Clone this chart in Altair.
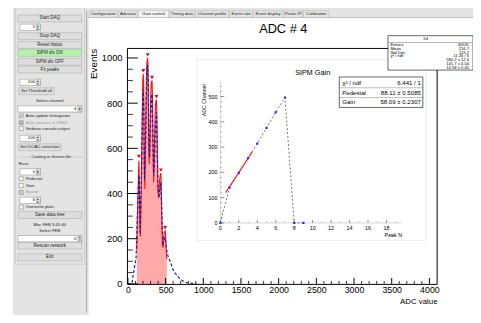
import altair as alt
import pandas as pd

# ---------------- data ----------------
blue_adc = [0, 40, 55, 65, 80, 95, 108, 115, 122, 130, 138, 146, 154, 162, 170, 180, 190, 197, 204, 212,
            220, 228, 238, 248, 256, 262, 270, 280, 290, 300, 310, 320, 330, 340, 350, 360, 370, 378, 388, 398,
            408, 418, 428, 436, 446, 456, 466, 476, 486, 494, 505, 515, 530, 545, 560, 580, 600, 620, 640, 660,
            680, 700, 730, 760, 790, 820, 850, 880, 910]
blue_cnt = [0, 0, 3, 30, 60, 90, 115, 180, 260, 340, 420, 480, 380, 220, 330, 480, 700, 820, 860, 760,
            460, 520, 700, 880, 960, 970, 860, 580, 560, 720, 820, 840, 700, 480, 520, 650, 720, 760, 640, 430,
            380, 400, 430, 450, 360, 250, 170, 190, 200, 205, 180, 150, 125, 110, 100, 80, 62, 50, 42, 34,
            27, 20, 13, 8, 5, 3, 2, 1, 0]

red_adc = [118, 125, 133, 140, 146, 151, 158, 166, 174, 182, 190, 197, 204, 210, 217, 224, 232, 240, 248, 255,
           262, 268, 275, 283, 291, 299, 307, 314, 320, 326, 333, 341, 349, 357, 365, 372, 378, 384, 391, 399,
           407, 415, 423, 430, 436, 442, 449, 457, 465, 473, 480, 487, 494, 500, 507, 515]
red_cnt = [150, 300, 380, 500, 545, 470, 260, 210, 400, 560, 760, 900, 930, 860, 520, 420, 600, 820, 960, 990,
           1000, 940, 620, 530, 650, 800, 880, 895, 900, 820, 600, 450, 560, 700, 790, 810, 815, 760, 560, 420,
           380, 430, 470, 485, 490, 440, 300, 170, 160, 200, 225, 232, 235, 220, 160, 110]

peak_adc = [146, 204, 262, 320, 378, 436, 494]
peak_cnt = [555, 935, 1005, 905, 820, 495, 240]

gain_n = [0, 1, 2, 3, 4, 5, 6, 7, 8, 9]
gain_ch = [0, 140, 198, 256, 314, 376, 438, 496, 0, 0]
fit_n = [0.57, 3.47]
fit_ch = [120, 282]

x_major = [0, 500, 1000, 1500, 2000, 2500, 3000, 3500, 4000]
x_minor = [v for v in range(100, 4100, 100) if v % 500]
y_major = [0, 200, 400, 600, 800, 1000]
y_minor = [v for v in range(50, 1040, 50) if v % 200]
in_x_major = [0, 2, 4, 6, 8, 10, 12, 14, 16, 18]
in_x_minor = [1, 3, 5, 7, 9, 11, 13, 15, 17, 19]
in_y_major = [0, 100, 200, 300, 400, 500]
in_y_minor = [v for v in range(20, 560, 20) if v % 100]

stat_names = ["Entries", "Mean", "Std Dev", "\u03c7\u00b2 / ndf", "", "", ""]
stat_values = ["40531", "216.7", "119.2", "11.26 / 6", "580.2 \u00b1 12.6", "145.7 \u00b1 4.04", "14.58 \u00b1 0.45"]
fit_names = ["\u03c7\u00b2 / ndf", "Pedestal", "Gain"]
fit_values = ["6.441 / 1", "88.11 \u00b1 0.5085", "58.09 \u00b1 0.2307"]

tabs = ["Configuration", "Adcview", "Gain control", "Timing data", "Channel profile",
        "Event rate", "Event display", "Peaks IP", "Calibration"]

# ---------------- layout helpers ----------------
F = "Liberation Sans"
OX, OY = 130, 47          # page position of the main plot area
W, H = 314, 239
ONE = pd.DataFrame({"k": [0]})
layers = []


def rect(x1, y1, x2, y2, fill=None, stroke=None, sw=0.6):
    kw = {}
    if fill is None:
        kw["fill"] = "white"
        kw["fillOpacity"] = 0
    else:
        kw["fill"] = fill
    if stroke is not None:
        kw["stroke"] = stroke
        kw["strokeWidth"] = sw
    else:
        kw["strokeWidth"] = 0
    return alt.Chart(ONE).mark_rect(**kw).encode(
        x=alt.value(x1 - OX), x2=alt.value(x2 - OX), y=alt.value(y1 - OY), y2=alt.value(y2 - OY))


def seg(x1, y1, x2, y2, color="black", sw=1.0, dash=None):
    kw = dict(color=color, strokeWidth=sw)
    if dash:
        kw["strokeDash"] = dash
    return alt.Chart(ONE).mark_rule(**kw).encode(
        x=alt.value(x1 - OX), x2=alt.value(x2 - OX), y=alt.value(y1 - OY), y2=alt.value(y2 - OY))


def txt(s, x, y, size=5.0, align="center", color="black", angle=0, baseline="middle", font=F):
    return alt.Chart(ONE).mark_text(text=s, align=align, baseline=baseline, fontSize=size, color=color,
                                    angle=angle, font=font).encode(x=alt.value(x - OX), y=alt.value(y - OY))


# ---------------- GUI chrome ----------------
GRAY = "#e4e4e4"
BTN = "#dedede"
EDGE = "#a4a4a4"
layers += [rect(13, 0, 90, 320, GRAY), rect(90, 0, 481, 15, GRAY),
           seg(88, 8, 88, 315, "#9a9a9a", 0.8), seg(90, 15, 481, 15, "#9a9a9a", 0.6),
           rect(15.5, 5, 86, 266, None, "#b8b8b8", 0.5)]

tab_edges = [90, 120, 140, 172, 198, 233, 257, 288, 308, 335]
for i, t in enumerate(tabs):
    x1, x2 = tab_edges[i], tab_edges[i + 1]
    fill = "#f4f4f4" if t == "Gain control" else GRAY
    layers += [rect(x1 + 0.5, 8, x2 - 0.5, 15, fill, "#b0b0b0", 0.5),
               txt(t, (x1 + x2) / 2, 11.3, 4.3, color="#222")]

wide_buttons = [("Start DAQ", 16, BTN), ("Stop DAQ", 34, BTN), ("Reset histos", 43, BTN),
                ("SiPM div ON", 51, "#b2f5a9"), ("SiPM div OFF", 60, BTN), ("Fit peaks", 68, BTN),
                ("Save data tree", 216, BTN), ("Rescan network", 247, BTN), ("Exit", 259, BTN)]
for lab, y, fill in wide_buttons:
    layers += [rect(18, y - 3.5, 83, y + 3.5, fill, EDGE, 0.5), txt(lab, 50.5, y, 4.6, color="#222")]

narrow_buttons = [("Set Threshold all", 90, 19, 55), ("Set DC/AC correction", 147, 19, 62)]
for lab, y, x1, x2 in narrow_buttons:
    layers += [rect(x1, y - 3.5, x2, y + 3.5, BTN, EDGE, 0.5), txt(lab, (x1 + x2) / 2, y, 4.2, color="#222")]

entries = [("5", 25, 20, 41), ("100", 81, 20, 41), ("4", 108, 18, 83), ("100", 138, 20, 41),
           ("0", 172, 20, 41), ("6", 201, 20, 41), ("0", 240, 18, 83)]
for lab, y, x1, x2 in entries:
    layers += [rect(x1, y - 3.2, x2, y + 3.2, "white", "#8c8c8c", 0.5),
               rect(x2 - 4, y - 3.2, x2, y + 3.2, BTN, "#8c8c8c", 0.4),
               txt(lab, x2 - 5.5, y, 4.4, align="right"),
               txt("\u25b4", x2 - 2, y - 1.3, 3.2), txt("\u25be", x2 - 2, y + 1.5, 3.2)]

checks = [("Auto update histograms", 115, True, False), ("Auto connect at DRS4", 122, True, True),
          ("Verbose console output", 128, False, False), ("Pedestal", 179, False, False),
          ("Gain", 186, False, False), ("Bound", 193, False, True), ("Overwrite plots", 208, False, False)]
for lab, y, on, grey in checks:
    layers += [rect(19.5, y - 2, 23.5, y + 2, "#d0d0d0" if grey else "white", "#707070", 0.5),
               txt(lab, 26, y, 4.3, align="left", color="#999" if grey else "#222")]
    if on:
        layers.append(txt("\u2714", 21.5, y, 3.6, color="#555" if grey else "#111", font="DejaVu Sans"))

plain = [("Select channel", 100, 50.5, "center"), ("Runs", 164, 19, "left"),
         ("Mac FEB 3:45:60", 226, 50.5, "center"), ("Select FEB", 232, 50.5, "center"),
         ("Cooling in thermo file", 157, 52, "center")]
for lab, y, x, al in plain:
    layers.append(txt(lab, x, y, 4.3, align=al, color="#222"))
layers += [seg(19, 157, 33, 157, "#888", 0.5, [1, 1]), seg(71, 157, 84, 157, "#888", 0.5, [1, 1])]

# ---------------- main histogram ----------------
xs = alt.Scale(domain=[0, 4096], nice=False, zero=False)
ys = alt.Scale(domain=[0, 1040], nice=False, zero=True)

red_df = pd.DataFrame({"adc": red_adc, "cnt": red_cnt})
blue_df = pd.DataFrame({"adc": blue_adc, "cnt": blue_cnt})
peak_df = pd.DataFrame({"adc": peak_adc, "cnt": peak_cnt})
X = alt.X("adc:Q", scale=xs, axis=None)
Y = alt.Y("cnt:Q", scale=ys, axis=None)

layers += [
    alt.Chart(red_df).mark_area(color="#ffa9a9", opacity=1).encode(x=X, y=Y),
    alt.Chart(red_df).mark_line(color="#ff1010", strokeWidth=1.1).encode(x=X, y=Y),
    alt.Chart(blue_df).mark_line(color="#1c1caa", strokeWidth=1.2, strokeDash=[3, 2]).encode(x=X, y=Y),
    alt.Chart(peak_df).mark_point(shape="triangle-down", filled=True, color="#ff0000", size=16,
                                  opacity=1, yOffset=-2).encode(x=X, y=Y),
]

V = "v:Q"
layers += [
    alt.Chart(pd.DataFrame({"v": y_major})).mark_rule(color="black", strokeWidth=1).encode(
        y=alt.Y(V, scale=ys, axis=None), x=alt.value(0), x2=alt.value(10)),
    alt.Chart(pd.DataFrame({"v": y_minor})).mark_rule(color="black", strokeWidth=0.8).encode(
        y=alt.Y(V, scale=ys, axis=None), x=alt.value(0), x2=alt.value(5)),
    alt.Chart(pd.DataFrame({"v": x_major})).mark_rule(color="black", strokeWidth=1).encode(
        x=alt.X(V, scale=xs, axis=None), y=alt.value(H), y2=alt.value(H - 6)),
    alt.Chart(pd.DataFrame({"v": x_minor})).mark_rule(color="black", strokeWidth=0.8).encode(
        x=alt.X(V, scale=xs, axis=None), y=alt.value(H), y2=alt.value(H - 3)),
    rect(129.5, 46.5, 444.5, 286.5, None, "black", 1.0),
]

axis_df = pd.DataFrame({"adc": [0, 4096], "cnt": [0, 1040]})
common = dict(labelFont=F, labelColor="black", ticks=False, tickSize=0, domain=False, grid=False,
              title=None, labelFlush=False, labelOverlap=False, format="d")
layers.append(alt.Chart(axis_df).mark_point(opacity=0).encode(
    x=alt.X("adc:Q", scale=xs, axis=alt.Axis(values=x_major, labelFontSize=9, labelPadding=2, **common)),
    y=alt.Y("cnt:Q", scale=ys, axis=alt.Axis(values=y_major, labelFontSize=9.5, labelPadding=6, **common))))

layers += [txt("ADC # 4", 288, 27, 13),
           txt("Events", 96, 47, 10, align="right", angle=270),
           txt("ADC value", 445, 304, 8, align="right")]

# ---------------- inset: SiPM gain ----------------
layers.append(rect(200, 58, 433, 242, "white", "#e2e2e2", 0.6))
xin = alt.Scale(domain=[0, 19.6], range=[224 - OX, 408 - OX], nice=False, zero=False)
yin = alt.Scale(domain=[0, 560], range=[224 - OY, 80 - OY], nice=False, zero=False)
layers += [seg(224, 224, 408, 224, "#a8a8a8", 0.5), seg(224, 80, 224, 224, "#a8a8a8", 0.5)]
layers += [
    alt.Chart(pd.DataFrame({"v": in_x_major})).mark_rule(color="#444", strokeWidth=0.6).encode(
        x=alt.X(V, scale=xin, axis=None), y=alt.value(224 - OY), y2=alt.value(221 - OY)),
    alt.Chart(pd.DataFrame({"v": in_x_minor})).mark_rule(color="#777", strokeWidth=0.5).encode(
        x=alt.X(V, scale=xin, axis=None), y=alt.value(224 - OY), y2=alt.value(222.5 - OY)),
    alt.Chart(pd.DataFrame({"v": in_y_major})).mark_rule(color="#444", strokeWidth=0.6).encode(
        y=alt.Y(V, scale=yin, axis=None), x=alt.value(224 - OX), x2=alt.value(228 - OX)),
    alt.Chart(pd.DataFrame({"v": in_y_minor})).mark_rule(color="#777", strokeWidth=0.5).encode(
        y=alt.Y(V, scale=yin, axis=None), x=alt.value(224 - OX), x2=alt.value(226 - OX)),
    alt.Chart(pd.DataFrame({"v": in_x_major})).mark_text(fontSize=5.5, font=F, baseline="middle").encode(
        x=alt.X(V, scale=xin, axis=None), y=alt.value(229 - OY), text=alt.Text(V, format="d")),
    alt.Chart(pd.DataFrame({"v": in_y_major})).mark_text(fontSize=5.5, font=F, align="right",
                                                          baseline="middle").encode(
        y=alt.Y(V, scale=yin, axis=None), x=alt.value(221 - OX), text=alt.Text(V, format="d")),
]
gain_df = pd.DataFrame({"n": gain_n, "ch": gain_ch})
fit_df = pd.DataFrame({"n": fit_n, "ch": fit_ch})
XI = alt.X("n:Q", scale=xin, axis=None)
YI = alt.Y("ch:Q", scale=yin, axis=None)
layers += [
    alt.Chart(gain_df).mark_line(color="#333", strokeWidth=0.7, strokeDash=[2, 2]).encode(x=XI, y=YI),
    alt.Chart(fit_df).mark_line(color="#ff2020", strokeWidth=1.1).encode(x=XI, y=YI),
    alt.Chart(gain_df).mark_square(color="#2a2aff", size=5, opacity=1).encode(x=XI, y=YI),
    txt("SiPM Gain", 318, 72, 7.5),
    txt("ADC Channel", 207, 83, 5.3, align="right", angle=270),
    txt("Peak N", 409, 236, 5.5, align="right"),
]

# inset fit box
layers += [rect(345, 75.5, 430, 106.5, "white", "black", 0.6),
           seg(345, 86.5, 430, 86.5, "#555", 0.4), seg(345, 96.5, 430, 96.5, "#555", 0.4)]
fit_df2 = pd.DataFrame({"i": [0, 1, 2], "name": fit_names, "val": fit_values})
row3 = alt.Y("i:O", scale=alt.Scale(domain=[0, 1, 2], range=[81.5 - OY, 101.5 - OY], padding=0), axis=None)
layers += [
    alt.Chart(fit_df2).mark_text(fontSize=6.2, font=F, align="left").encode(
        x=alt.value(348 - OX), y=row3, text="name:N"),
    alt.Chart(fit_df2).mark_text(fontSize=6.2, font=F, align="right").encode(
        x=alt.value(428 - OX), y=row3, text="val:N"),
]

# ---------------- main stats box ----------------
layers += [rect(394.5, 33.5, 481, 68.5, "white", "black", 0.6), seg(394.5, 40.5, 481, 40.5, "#444", 0.4),
           txt("h4", 433, 37.2, 4.2)]
st_df = pd.DataFrame({"i": list(range(7)), "name": stat_names, "val": stat_values})
row7 = alt.Y("i:O", scale=alt.Scale(domain=list(range(7)), range=[43.2 - OY, 66 - OY], padding=0), axis=None)
layers += [
    alt.Chart(st_df).mark_text(fontSize=4.2, font=F, align="left").encode(
        x=alt.value(397 - OX), y=row7, text="name:N"),
    alt.Chart(st_df).mark_text(fontSize=4.2, font=F, align="right").encode(
        x=alt.value(477 - OX), y=row7, text="val:N"),
]

chart = alt.layer(*layers).resolve_scale(x="independent", y="independent").properties(
    width=W, height=H,
    padding={"left": OX - 8, "top": OY - 8, "right": 473 - (OX - 8) - W, "bottom": 307 - (OY - 8) - H},
    autosize=alt.AutoSizeParams(type="none"),
).configure_view(stroke=None)

chart.save("out.html", embed_options={"renderer": "svg", "actions": False})
